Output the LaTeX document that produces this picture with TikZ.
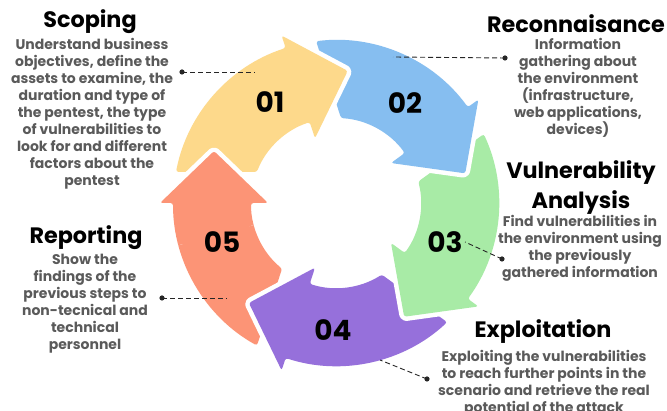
\documentclass[tikz,border=0pt]{standalone}
\usepackage{fontspec}
\setmainfont{Poppins}
\definecolor{cyel}{HTML}{FDD98B}
\definecolor{cblue}{HTML}{86BEF0}
\definecolor{cgreen}{HTML}{A8EBA6}
\definecolor{cpurp}{HTML}{9670DB}
\definecolor{csalm}{HTML}{FC9476}
\definecolor{cbody}{HTML}{5A5A5A}
\newcommand\ringarrow[2]{%
  \path[preaction={draw=white,line width=9pt,line join=round}, fill=#2, rounded corners=2.5pt]
    ({#1+61}:163) arc[start angle={#1+61}, end angle={#1}, radius=163]
    -- ({#1}:176) -- ({#1-23.08}:132.6) -- ({#1}:68) -- ({#1}:85)
    arc[start angle={#1}, end angle={#1+50.6}, radius=85] -- cycle;}
\tikzset{
  heading/.style={font=\bfseries\fontsize{22.3}{30}\selectfont, text=black, align=center, inner sep=0pt, anchor=base},
  bodytext/.style={font=\bfseries\fontsize{14}{17}\selectfont, text=cbody, align=center, inner sep=0pt, anchor=north},
  num/.style={font=\bfseries\fontsize{28}{30}\selectfont, text=black, inner sep=0pt},
  conn/.style={draw=black!85, line width=0.9pt, dash pattern=on 5pt off 3pt},
  dot/.style={fill=black!85}
}
\begin{document}
\begin{tikzpicture}[x=1pt,y=1pt]
\useasboundingbox (0,0) rectangle (667,411);
\begin{scope}[shift={(336,208)}]
  \ringarrow{180}{csalm}
  \ringarrow{-108}{cpurp}
  \ringarrow{-36}{cgreen}
  \ringarrow{36}{cblue}
  \ringarrow{108}{cyel}
  \begin{scope}
    \clip (0,0) -- (145:230) arc[start angle=145, end angle=195, radius=230] -- cycle;
    \ringarrow{180}{csalm}
  \end{scope}
\end{scope}
% numbers
\node[num] (n01) at (270,309) {01};
\node[num] (n02) at (405,308) {02};
\node[num] (n03) at (445,169) {03};
\node[num] (n04) at (333,81) {04};
\node[num] (n05) at (222,169) {05};
% headings
\node[heading] (h1) at (90,383) {Scoping};
\node[heading] (h2) at (576,378) {Reconnaisance};
\node[heading] (h3) at (581,202) {Vulnerability\\Analysis};
\node[heading] (h4) at (86,167) {Reporting};
\node[heading] (h5) at (543,73) {Exploitation};
% bodies
\node[bodytext] (b1) at (92,373) {Understand business\\objectives, define the\\assets to examine, the\\duration and type of\\the pentest, the type\\of vulnerabilities to\\look for and different\\factors about the\\pentest};
\node[bodytext] (b2) at (578,373) {Information\\gathering about\\the environment\\(infrastructure,\\web applications,\\devices)};
\node[bodytext] (b3) at (580,196) {Find vulnerabilities in\\the environment using\\the previously\\gathered information};
\node[bodytext] (b4) at (85,157) {Show the\\findings of the\\previous steps to\\non-tecnical and\\technical\\personnel};
\node[bodytext] (b5) at (544,61) {Exploiting the vulnerabilities\\to reach further points in the\\scenario and retrieve the real\\potential of the attack};
% connectors
\coordinate (d1) at (182,339); \coordinate (e1) at (255,339);
\coordinate (d2) at (505,353); \coordinate (e2) at (393,354);
\coordinate (d3) at (502,152); \coordinate (e3) at (465,169);
\coordinate (d4) at (162,113); \coordinate (e4) at (227,113);
\coordinate (d5) at (427,32);  \coordinate (e5) at (380,51);
\foreach \i in {1,...,5}{
  \draw[conn] (d\i) -- (e\i);
  \fill[dot] (d\i) circle (2.6pt);
}
\end{tikzpicture}
\end{document}
